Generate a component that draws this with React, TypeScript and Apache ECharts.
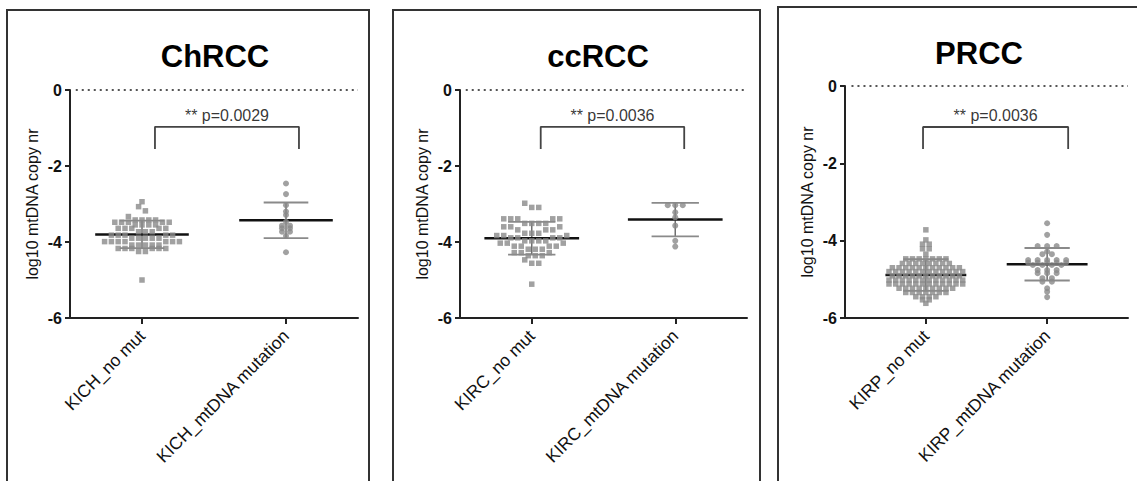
import React, { useEffect, useRef } from "react";
import * as echarts from "echarts";

// ---------------- DATA ----------------
const panelTitles = ["ChRCC", "ccRCC", "PRCC"];
const categoryNames = [
  ["KICH_no mut", "KICH_mtDNA mutation"],
  ["KIRC_no mut", "KIRC_mtDNA mutation"],
  ["KIRP_no mut", "KIRP_mtDNA mutation"],
];
const pValueLabels = ["** p=0.0029", "** p=0.0036", "** p=0.0036"];
const yTickValues = [0, -2, -4, -6];
const yAxisTitle = "log10 mtDNA copy nr";

const kichNoMut = [
  -2.94, -3.07, -3.18, -3.33,
  -3.42, -3.42, -3.42, -3.42,
  -3.48, -3.48, -3.48, -3.48, -3.48,
  -3.55, -3.55, -3.55, -3.55,
  -3.64, -3.64, -3.64, -3.64, -3.64,
  -3.73, -3.73, -3.73,
  -3.82, -3.82, -3.82, -3.82, -3.82,
  -3.9, -3.9, -3.9, -3.9, -3.9,
  -3.99, -3.99, -3.99, -3.99, -3.99, -3.99, -3.99,
  -4.08, -4.08, -4.08, -4.08, -4.08,
  -4.17, -4.17, -4.17, -4.17, -4.17, -4.17,
  -4.25, -4.25,
  -5.0,
];
const kichMut = [
  -2.46, -2.74, -3.03, -3.2, -3.29, -3.47, -3.57, -3.57, -3.64, -3.64,
  -3.73, -3.73, -3.84, -4.27,
];
const kircNoMut = [
  -2.98, -3.09, -3.09,
  -3.39, -3.39, -3.39, -3.39, -3.39,
  -3.51, -3.51, -3.51, -3.51,
  -3.6, -3.6, -3.6,
  -3.68, -3.68, -3.68,
  -3.77, -3.77, -3.77,
  -3.83, -3.83, -3.83,
  -3.89, -3.89, -3.89, -3.89,
  -3.97, -3.97, -3.97, -3.97,
  -4.03, -4.03, -4.03,
  -4.11, -4.11, -4.11, -4.11,
  -4.19, -4.19, -4.19,
  -4.28, -4.28, -4.28,
  -4.36, -4.36, -4.36,
  -4.47, -4.56, -4.56,
  -5.11,
];
const kircMut = [-3.03, -3.03, -3.03, -3.22, -3.35, -3.57, -3.97, -4.12];
const kirpNoMut = [
  -3.72, -3.98, -4.09, -4.09, -4.21, -4.21, -4.35,
  -4.47, -4.47, -4.47, -4.47, -4.47, -4.47, -4.47,
  -4.59, -4.59, -4.59, -4.59, -4.59, -4.59, -4.59, -4.59,
  -4.7, -4.7, -4.7, -4.7, -4.7, -4.7, -4.7, -4.7, -4.7, -4.7, -4.7,
  -4.8, -4.8, -4.8, -4.8, -4.8, -4.8, -4.8, -4.8, -4.8, -4.8, -4.8, -4.8,
  -4.91, -4.91, -4.91, -4.91, -4.91, -4.91, -4.91, -4.91, -4.91, -4.91, -4.91,
  -5.02, -5.02, -5.02, -5.02, -5.02, -5.02, -5.02, -5.02, -5.02, -5.02, -5.02, -5.02,
  -5.12, -5.12, -5.12, -5.12, -5.12, -5.12, -5.12, -5.12, -5.12, -5.12, -5.12, -5.12,
  -5.23, -5.23, -5.23, -5.23, -5.23, -5.23, -5.23, -5.23, -5.23,
  -5.34, -5.34, -5.34, -5.34, -5.34, -5.34, -5.34,
  -5.45, -5.45, -5.45, -5.45,
  -5.53, -5.53,
  -5.62,
];
const kirpMut = [
  -3.55, -3.85, -4.14, -4.14, -4.14, -4.28, -4.35, -4.35,
  -4.5, -4.5, -4.5, -4.5, -4.5,
  -4.57, -4.57, -4.57, -4.57, -4.57,
  -4.63, -4.63, -4.63, -4.63,
  -4.76, -4.76, -4.76,
  -4.84, -4.84, -4.84,
  -4.97, -4.97, -5.06, -5.06, -5.23, -5.32, -5.46,
];
const groupValues = [
  [kichNoMut, kichMut],
  [kircNoMut, kircMut],
  [kirpNoMut, kirpMut],
];
const groupMeans = [
  [-3.8, -3.43],
  [-3.9, -3.41],
  [-4.89, -4.61],
];
const groupSDs = [
  [0.36, 0.47],
  [0.43, 0.44],
  [0.41, 0.42],
];

// ---------------- LAYOUT ----------------
const grids = [
  { left: 70, top: 90, width: 288, height: 228 },
  { left: 460, top: 90, width: 287, height: 228 },
  { left: 845, top: 86, width: 283, height: 232 },
];
const xRanges = [[0, 4], [0, 4], [0, 3.5]];
const catPositions = [[1, 3], [1, 3], [1, 2.5]];
const pointSpacing = [[6.8, 8], [7, 7.5], [6.7, 9.5]];
const rowBinPx = [[4.5, 1], [6.5, 1], [1, 1]];
const bracketXs = [[1.18, 3.18], [1.125, 3.125], [0.965, 2.76]];
const bracketYs = [[-1.55, -0.97], [-1.55, -0.97], [-1.63, -1.06]];
const pLabelY = [-0.68, -0.68, -0.77];
const meanHalf = [0.65, 0.66, 0.5];
const sdHalf = [0.31, 0.33, 0.28];
const titleCenters = [[210, 36], [593, 36], [974, 33]];
const borders = [
  { x: 7, y: 10, width: 362, height: 520 },
  { x: 393, y: 10, width: 367, height: 520 },
  { x: 778, y: 7, width: 420, height: 520 },
];

const FONT = "'Liberation Sans', Arial, sans-serif";

// Column-scatter layout: values falling in the same vertical bin share a row, centred on the category.
function rowLayout(values: number[], center: number, xScale: number, yScale: number, spacing: number, binPx: number) {
  const sorted = values.slice().sort((a, b) => b - a);
  const bins: number[][] = [];
  sorted.forEach((v) => {
    const last = bins[bins.length - 1];
    if (last && (last[0] - v) * yScale < binPx - 1e-6) last.push(v);
    else bins.push([v]);
  });
  const out: number[][] = [];
  bins.forEach((bin) => {
    const n = bin.length;
    const order: number[] = [];
    for (let k = 0; k < n; k++) order.push(k % 2 === 0 ? k / 2 : n - 1 - (k - 1) / 2);
    bin.forEach((v, k) => {
      const off = (order[k] - (n - 1) / 2) * spacing;
      out.push([center + off / xScale, v]);
    });
  });
  return out;
}

export default function App() {
  const ref = useRef<HTMLDivElement>(null);
  useEffect(() => {
    if (!ref.current) return;
    const chart = echarts.init(ref.current, null, { renderer: "svg" });

    const xAxis: any[] = [];
    const yAxis: any[] = [];
    const series: any[] = [];
    const title: any[] = [];

    grids.forEach((g, i) => {
      const [xmin, xmax] = xRanges[i];
      const xScale = g.width / (xmax - xmin);
      const yScale = g.height / 6;
      const cats = catPositions[i];
      title.push({
        text: panelTitles[i],
        left: titleCenters[i][0],
        top: titleCenters[i][1],
        textAlign: "center",
        textStyle: { fontSize: 31, fontWeight: "bold", color: "#000", fontFamily: FONT },
      });
      xAxis.push({
        type: "value",
        gridIndex: i,
        min: xmin,
        max: xmax,
        axisLine: { show: true, onZero: false, lineStyle: { color: "#222", width: 2 } },
        axisTick: { show: true, customValues: cats, length: 6, lineStyle: { color: "#222", width: 2 } },
        axisLabel: {
          customValues: cats,
          rotate: 45,
          margin: 15,
          fontSize: 17.5,
          color: "#111",
          fontFamily: FONT,
          formatter: (v: number) => {
            const idx = cats.findIndex((c) => Math.abs(c - v) < 1e-6);
            return idx >= 0 ? categoryNames[i][idx] : "";
          },
        },
        splitLine: { show: false },
      });
      yAxis.push({
        type: "value",
        gridIndex: i,
        min: -6,
        max: 0,
        interval: 2,
        name: yAxisTitle,
        nameLocation: "middle",
        nameGap: 30,
        nameTextStyle: { fontSize: 16, color: "#111", fontFamily: FONT },
        axisLine: { show: true, lineStyle: { color: "#222", width: 2 } },
        axisTick: { show: true, length: 5, lineStyle: { color: "#222", width: 2 } },
        axisLabel: {
          fontSize: 16,
          fontWeight: "bold",
          color: "#111",
          fontFamily: FONT,
          margin: 8,
          formatter: (v: number) => (yTickValues.includes(v) ? String(v) : ""),
        },
        splitLine: { show: false },
      });
      // zero dotted line
      series.push({
        type: "line",
        xAxisIndex: i,
        yAxisIndex: i,
        data: [[xmin + 0.08, 0], [xmax, 0]],
        symbol: "none",
        silent: true,
        lineStyle: { color: "#555", width: 2, type: [2, 4] },
      });
      // points
      groupValues[i].forEach((vals, j) => {
        series.push({
          type: "scatter",
          xAxisIndex: i,
          yAxisIndex: i,
          symbol: j === 0 ? "rect" : "circle",
          symbolSize: j === 0 ? 5.5 : 6,
          itemStyle: { color: "#8a8a8a" },
          data: rowLayout(vals, cats[j], xScale, yScale, pointSpacing[i][j], rowBinPx[i][j]),
        });
      });
      // mean and SD
      series.push({
        type: "custom",
        xAxisIndex: i,
        yAxisIndex: i,
        encode: { x: 0, y: 1 },
        data: cats.map((c, j) => [c, groupMeans[i][j], groupSDs[i][j], meanHalf[i], sdHalf[i]]),
        renderItem: (_p: any, api: any) => {
          const c = api.value(0), m = api.value(1), sd = api.value(2), mh = api.value(3), sh = api.value(4);
          const P = (x: number, y: number) => api.coord([x, y]);
          const ln = (a: number[], b: number[], stroke: string, w: number) => ({
            type: "line",
            shape: { x1: a[0], y1: a[1], x2: b[0], y2: b[1] },
            style: { stroke, lineWidth: w },
          });
          return {
            type: "group",
            children: [
              ln(P(c, m + sd), P(c, m - sd), "#6f6f6f", 1.5),
              ln(P(c - sh, m + sd), P(c + sh, m + sd), "#8a8a8a", 1.8),
              ln(P(c - sh, m - sd), P(c + sh, m - sd), "#8a8a8a", 1.8),
              ln(P(c - mh, m), P(c + mh, m), "#111", 2.5),
            ],
          };
        },
      });
      // bracket
      const [bx1, bx2] = bracketXs[i];
      const [by0, by1] = bracketYs[i];
      series.push({
        type: "line",
        xAxisIndex: i,
        yAxisIndex: i,
        data: [[bx1, by0], [bx1, by1], [bx2, by1], [bx2, by0]],
        symbol: "none",
        silent: true,
        lineStyle: { color: "#444", width: 1.8 },
      });
      series.push({
        type: "scatter",
        xAxisIndex: i,
        yAxisIndex: i,
        symbolSize: 0,
        silent: true,
        data: [[(bx1 + bx2) / 2, pLabelY[i]]],
        label: {
          show: true,
          position: "inside",
          formatter: pValueLabels[i],
          fontSize: 16,
          color: "#000",
          fontFamily: FONT,
        },
      });
    });

    chart.setOption({
      animation: false,
      backgroundColor: "#fff",
      title,
      grid: grids.map((g) => ({ ...g, containLabel: false })),
      xAxis,
      yAxis,
      series,
      graphic: borders.map((b) => ({
        type: "rect",
        shape: { x: b.x, y: b.y, width: b.width, height: b.height },
        style: { fill: "none", stroke: "#333", lineWidth: 2 },
        z: 100,
        silent: true,
      })),
    });
    return () => chart.dispose();
  }, []);
  return (
    <div
      ref={ref}
      style={{ position: "fixed", left: 0, top: 0, width: 1137, height: 481, background: "#fff" }}
    />
  );
}
